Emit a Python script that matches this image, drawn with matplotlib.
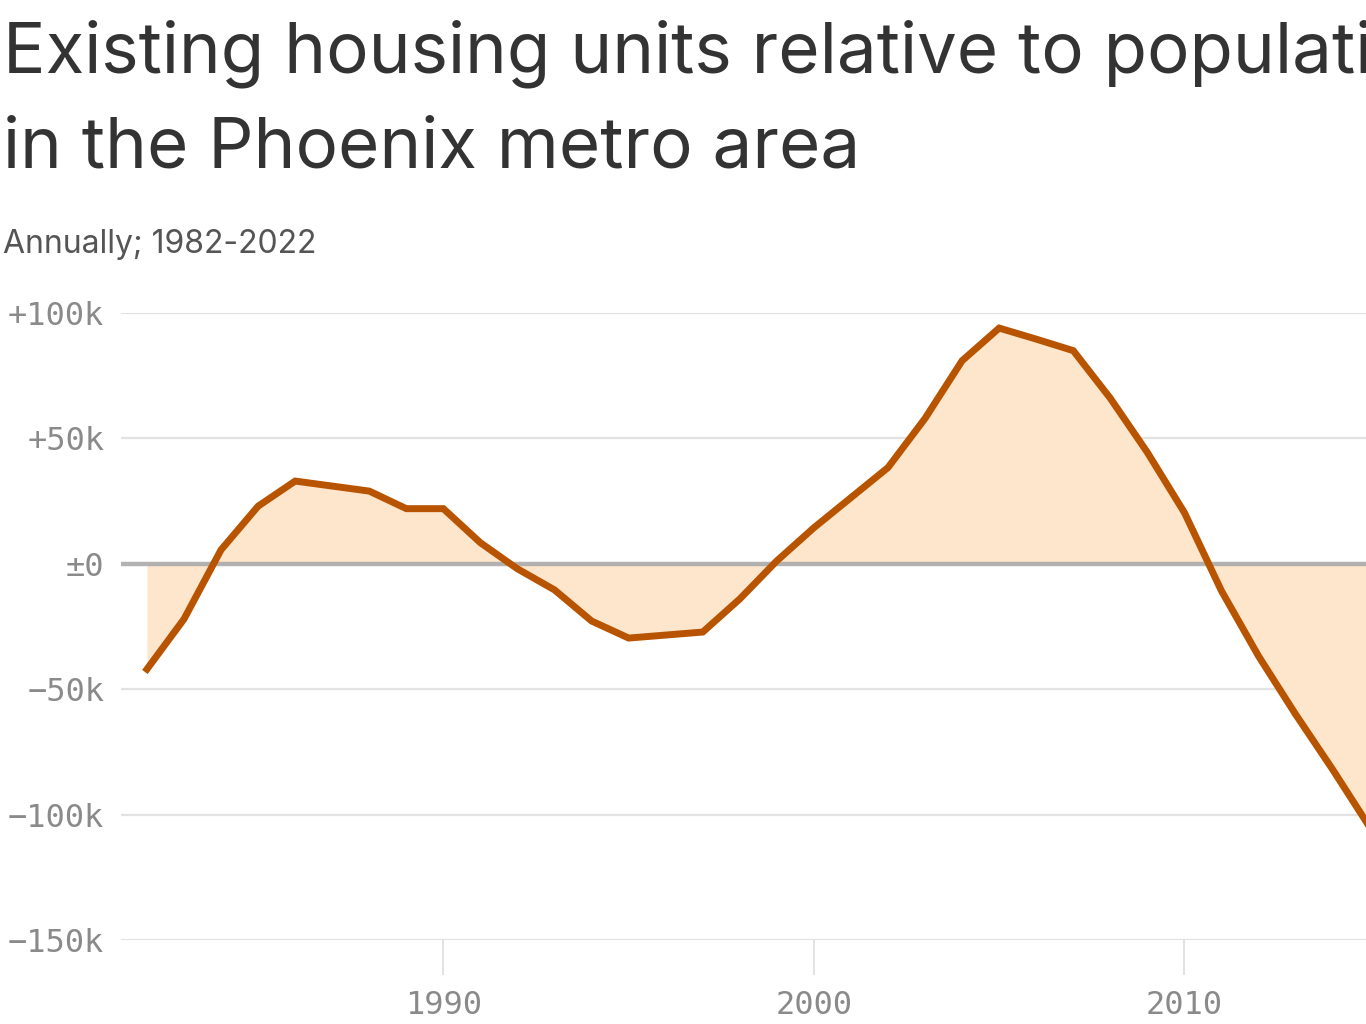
import numpy as np
import matplotlib
matplotlib.use("Agg")
import matplotlib.pyplot as plt

# housing units minus population-implied need, thousands
years = list(range(1982, 2016))
surplus_k = [-42, -22, 5.6, 23, 33, 31, 29, 22, 22, 8.4,
             -2, -10.4, -22.8, -29.6, -28.4, -27.2, -14, 1.2, 14.4, 26.4,
             38.4, 58, 81, 94, 89.6, 85, 66, 44.4, 20.4, -10.8,
             -36.8, -60, -82, -105]

y_ticks = [100, 50, 0, -50, -100, -150]
y_labels = ["+100k", "+50k", "±0", "−50k", "−100k", "−150k"]
x_ticks = [1990, 2000, 2010]

line_color = "#b85400"
fill_color = "#fee6cd"
tick_color = "#8a8a8a"

fig = plt.figure(figsize=(13.66, 10.24), dpi=100)
ax = fig.add_axes([0.0886, 0.082, 0.9114, 0.6123])

x = np.array(years)
y = np.array(surplus_k)
ax.fill_between(x, y, 0, color=fill_color, linewidth=0, zorder=1)
ax.plot(x, y, color=line_color, linewidth=5, solid_joinstyle="miter", zorder=4)

for t in y_ticks:
    if t == 0:
        ax.axhline(t, color="#aaaaaa", linewidth=3.2, zorder=3, alpha=0.9)
    else:
        ax.axhline(t, color="#e2e2e2", linewidth=1.6, zorder=0)

ax.set_xlim(1981.3, 2014.9)
ax.set_ylim(-150, 100)
ax.set_yticks(y_ticks)
ax.set_yticklabels(y_labels)
ax.set_xticks(x_ticks)
ax.set_xticklabels([str(v) for v in x_ticks])
ax.tick_params(axis="y", length=0, pad=12, labelsize=23, labelcolor=tick_color)
ax.tick_params(axis="x", length=25, width=1.2, color="#dddddd", pad=11,
               labelsize=23, labelcolor=tick_color)
for lab in ax.get_xticklabels() + ax.get_yticklabels():
    lab.set_family("DejaVu Sans Mono")
for s in ax.spines.values():
    s.set_visible(False)

fig.text(0.002, 1 - 72 / 1024, "Existing housing units relative to population growth",
         family="Inter", fontsize=51, color="#333333", va="baseline")
fig.text(0.002, 1 - 167 / 1024, "in the Phoenix metro area",
         family="Inter", fontsize=51, color="#333333", va="baseline")
fig.text(0.002, 1 - 253 / 1024, "Annually; 1982-2022",
         family="Inter", fontsize=23, color="#555555", va="baseline")

fig.savefig("out.png", dpi=100)
